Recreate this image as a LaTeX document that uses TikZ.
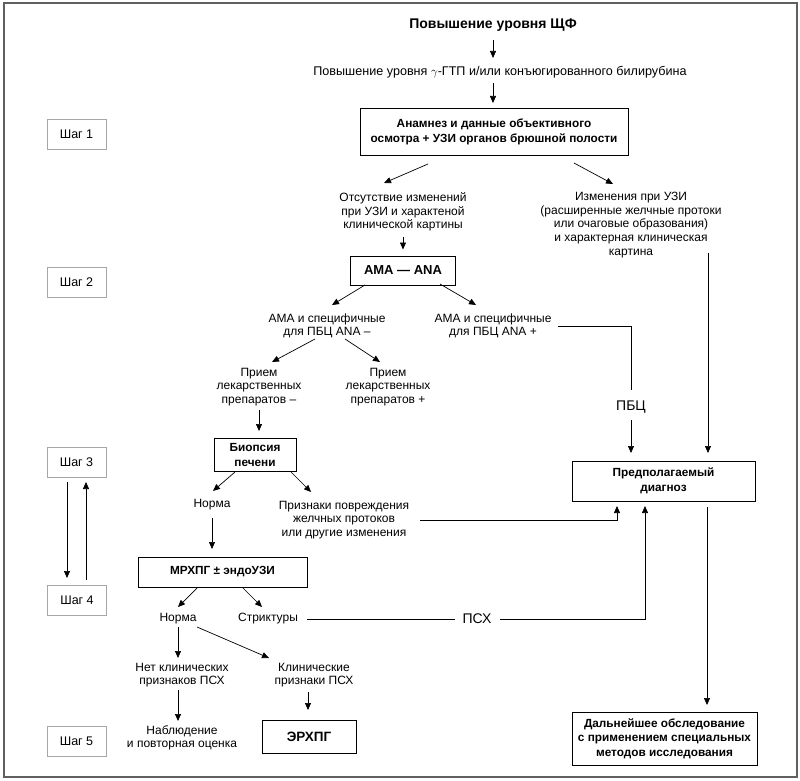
\documentclass[tikz,border=0pt]{standalone}
\usepackage{fontspec}
\setmainfont{Liberation Sans}
\usetikzlibrary{arrows.meta,calc}
\begin{document}
\begin{tikzpicture}[x=1pt,y=-1pt,
  txt/.style={align=center,inner sep=0pt,font=\fontsize{12}{13.6}\selectfont},
  lbl/.style={inner sep=0pt,font=\fontsize{14}{16}\selectfont},
  bx/.style={draw,line width=0.8pt,align=center,inner sep=0pt,font=\bfseries\fontsize{11.8}{14.5}\selectfont},
  stepbox/.style={draw=gray!70,line width=0.8pt,minimum width=59pt,minimum height=30pt,inner sep=0pt,font=\fontsize{12.5}{14}\selectfont},
  arr/.style={-{Triangle[length=7pt,width=6pt]},line width=0.7pt},
  ln/.style={line width=0.7pt}]
\useasboundingbox (0,0) rectangle (800,781);
\draw[gray!75!black,line width=1.2pt] (4,3) rectangle (797,777);

\node[font=\bfseries\fontsize{14}{16}\selectfont,inner sep=0pt] (title) at (493,25) {Повышение уровня ЩФ};
\node[txt,font=\fontsize{12.6}{14}\selectfont] (t2) at (500,72) {Повышение уровня $\gamma$-ГТП и/или конъюгированного билирубина};
\node[bx,minimum width=268pt,minimum height=47pt] (b1) at (494,132) {Анамнез и данные объективного\\осмотра + УЗИ органов брюшной полости};
\node[stepbox] (s1) at (76.5,134) {Шаг 1};
\node[txt] (lA) at (403,212) {Отсутствие изменений\\при УЗИ и характеной\\клинической картины};
\node[txt] (rA) at (631,225) {Изменения при УЗИ\\(расширенные желчные протоки\\или очаговые образования)\\и характерная клиническая\\картина};
\node[bx,minimum width=105pt,minimum height=29pt,font=\bfseries\fontsize{13}{15}\selectfont] (ama) at (403,270.5) {АМА — ANA};
\node[stepbox] (s2) at (76.5,282) {Шаг 2};
\node[txt] (amM) at (327,326) {АМА и специфичные\\для ПБЦ ANA –};
\node[txt] (amP) at (493,326) {АМА и специфичные\\для ПБЦ ANA +};
\node[txt] (drM) at (259,387) {Прием\\лекарственных\\препаратов –};
\node[txt] (drP) at (388,387) {Прием\\лекарственных\\препаратов +};
\node[bx,minimum width=82pt,minimum height=33pt] (bio) at (255,455) {Биопсия\\печени};
\node[stepbox] (s3) at (76.5,462) {Шаг 3};
\node[lbl] (pbc) at (631,407) {ПБЦ};
\node[bx,minimum width=183pt,minimum height=40pt] (diag) at (663.5,481) {Предполагаемый\\диагноз};
\node[txt] (n1) at (212,505) {Норма};
\node[txt] (sg) at (344,520) {Признаки повреждения\\желчных протоков\\или другие изменения};
\node[bx,minimum width=169pt,minimum height=30pt] (mr) at (222.5,572) {МРХПГ ± эндоУЗИ};
\node[stepbox] (s4) at (77,600) {Шаг 4};
\node[txt] (n2) at (178,619) {Норма};
\node[txt] (st) at (268,619) {Стриктуры};
\node[lbl] (psx) at (477,619) {ПСХ};
\node[txt] (ns) at (182,675) {Нет клинических\\признаков ПСХ};
\node[txt] (cs) at (314,675) {Клинические\\признаки ПСХ};
\node[txt] (ob) at (182,738) {Наблюдение\\и повторная оценка};
\node[bx,minimum width=94pt,minimum height=33pt,font=\bfseries\fontsize{13.5}{15}\selectfont] (er) at (309,736.5) {ЭРХПГ};
\node[stepbox] (s5) at (76.5,741) {Шаг 5};
\node[bx,minimum width=185pt,minimum height=53pt] (fu) at (664.5,738.5) {Дальнейшее обследование\\с применением специальных\\методов исследования};

\draw[arr] ($(title)+(0,15)$) -- ($(t2)+(-7,-14)$);
\draw[arr] ($(t2)+(-7,11)$) -- ($(b1)+(-1,-29)$);
\draw[arr] ($(b1)+(-66,32)$) -- ($(lA)+(-19,-29)$);
\draw[arr] ($(b1)+(80,31)$) -- ($(rA)+(-18,-41)$);
\draw[arr] ($(lA)+(0,25)$) -- ($(ama)+(0,-21)$);
\draw[arr] ($(ama)+(-38,14.5)$) -- ($(amM)+(5,-21)$);
\draw[arr] ($(ama)+(37,13.5)$) -- ($(amP)+(-17,-21)$);
\draw[ln] ($(amP)+(65,0)$) -| ($(pbc)+(0,-17)$);
\draw[arr] ($(pbc)+(0,13)$) -- ($(diag)+(-32.5,-28)$);
\draw[arr] ($(rA)+(77,28)$) -- ($(diag)+(44.5,-28)$);
\draw[arr] ($(amM)+(-12,13)$) -- ($(drM)+(13,-25)$);
\draw[arr] ($(amM)+(18,13)$) -- ($(drP)+(-8,-25)$);
\draw[arr] ($(drM)+(0,23)$) -- ($(bio)+(4,-24)$);
\draw[arr] ($(bio)+(-20,17)$) -- ($(n1)+(1,-14)$);
\draw[arr] ($(bio)+(36,17)$) -- ($(sg)+(-33,-28)$);
\draw[arr] ($(sg)+(76,0)$) -| ($(diag)+(-46.5,25)$);
\draw[arr] ($(n1)+(0,13)$) -- ($(mr)+(-10.5,-23)$);
\draw[arr] ($(mr)+(-25.5,16)$) -- ($(n2)+(0,-12)$);
\draw[arr] ($(mr)+(20.5,16)$) -- ($(st)+(-6,-12)$);
\draw[ln] ($(st)+(39,0)$) -- ($(psx)+(-22,0)$);
\draw[arr] ($(psx)+(23,0)$) -| ($(diag)+(-18.5,25)$);
\draw[arr] ($(s3)+(-9.5,20)$) -- ($(s4)+(-10,-22)$);
\draw[arr] ($(s4)+(9,-20)$) -- ($(s3)+(9.5,20)$);
\draw[arr] ($(n2)+(0,8)$) -- ($(ns)+(-4,-17)$);
\draw[arr] ($(n2)+(19,8)$) -- ($(cs)+(-45,-17)$);
\draw[arr] ($(ns)+(-4,15)$) -- ($(ob)+(-4,-17)$);
\draw[arr] ($(cs)+(-6,17)$) -- ($(er)+(-1,-26.5)$);
\draw[arr] ($(diag)+(43.5,26)$) -- ($(fu)+(42.5,-33.5)$);
\end{tikzpicture}
\end{document}
